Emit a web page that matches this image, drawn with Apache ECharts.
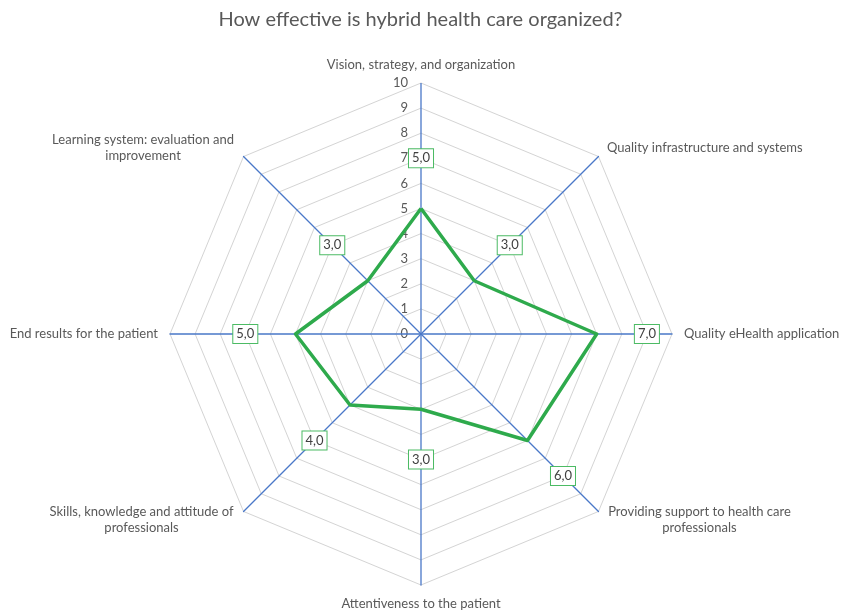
<!DOCTYPE html>
<html>
<head>
<meta charset="utf-8">
<script src="https://cdn.jsdelivr.net/npm/echarts@6/dist/echarts.min.js"></script>
<style>
html, body { margin: 0; padding: 0; background: #fff; }
#main { width: 841px; height: 614px; }
</style>
</head>
<body>
<div id="main"></div>
<script>
var categories = [
	'Vision, strategy, and organization',
	'Quality infrastructure and systems',
	'Quality eHealth application',
	'Providing support to health care\nprofessionals',
	'Attentiveness to the patient',
	'Skills, knowledge and attitude of\nprofessionals',
	'End results for the patient',
	'Learning system: evaluation and\nimprovement'
]
var scores = [5, 3, 7, 6, 3, 4, 5, 3]
var maxScore = 10
var labelShift = 2 // labels sit 2 units further out than the point

window.onload = function () {
	var textColor = '#595959'
	var font = 'Lato, "Open Sans", sans-serif'
	var axisColor = '#4a78c8'

	// width of the longest line, so that two-line names can be centred in their block
	var ctx = document.createElement('canvas').getContext('2d')
	ctx.font = '13px ' + font
	function blockWidth(name) {
		var w = 0
		for (let line of name.split('\n')) {
			w = Math.max(w, ctx.measureText(line).width)
		}
		return Math.ceil(w) + 2
	}

	// ECharts goes counter-clockwise, the reference goes clockwise
	var order = [0, 7, 6, 5, 4, 3, 2, 1]
	var indicator = order.map(function (i, k) {
		return {
			name: categories[i],
			max: maxScore,
			min: 0,
			axisLabel: { show: k === 0 }
		}
	})
	var vals = order.map(function (i) { return scores[i] })
	var labelVals = vals.map(function (v) { return v + labelShift })

	// radar axis lines rendered partly black, so the spokes are drawn as
	// degenerate polygons (max on one axis, 0 on the rest) on their own layer
	var spokes = order.map(function (i, k) {
		return {
			value: order.map(function (j, m) { return m === k ? maxScore : 0 })
		}
	})

	var rich = {}
	categories.forEach(function (name) {
		if (name.indexOf('\n') >= 0) {
			var w = blockWidth(name)
			rich['c' + w] = {
				width: w,
				align: 'center',
				color: textColor,
				fontSize: 13,
				fontFamily: font,
				lineHeight: 16
			}
		}
	})

	var options = {
		backgroundColor: '#fff',
		title: {
			text: 'How effective is hybrid health care organized?',
			left: 'center',
			top: 5,
			textStyle: {
				color: textColor,
				fontSize: 20,
				fontWeight: 'normal',
				fontFamily: font
			}
		},
		radar: {
			center: [421, 334],
			radius: 251,
			startAngle: 90,
			splitNumber: 10,
			shape: 'polygon',
			indicator: indicator,
			nameGap: 12,
			axisName: {
				color: textColor,
				fontSize: 13,
				fontFamily: font,
				formatter: function (name) {
					if (name.indexOf('\n') < 0) return name
					var key = 'c' + blockWidth(name)
					return name.split('\n').map(function (line) {
						return '{' + key + '|' + line + '}'
					}).join('\n')
				},
				rich: rich
			},
			axisLine: { show: false },
			splitLine: { lineStyle: { color: '#d4d4d4', width: 1 } },
			splitArea: { show: false },
			axisTick: { show: false },
			axisLabel: {
				show: false,
				color: textColor,
				fontSize: 13,
				fontFamily: font,
				margin: 13
			}
		},
		series: [
			{
				type: 'radar',
				symbol: 'none',
				silent: true,
				zlevel: 1,
				z: 1,
				lineStyle: { color: axisColor, width: 1.3 },
				data: spokes
			},
			{
				type: 'radar',
				symbol: 'none',
				silent: true,
				zlevel: 2,
				z: 1,
				lineStyle: { color: '#2eaa4c', width: 3.5 },
				data: [{ value: vals }]
			},
			{
				type: 'radar',
				symbol: 'circle',
				symbolSize: 2,
				silent: true,
				zlevel: 2,
				z: 2,
				itemStyle: { color: 'rgba(0,0,0,0)' },
				lineStyle: { width: 0, color: 'rgba(0,0,0,0)' },
				label: {
					show: true,
					position: 'inside',
					color: '#404040',
					fontSize: 13,
					fontFamily: font,
					backgroundColor: '#fff',
					borderColor: '#4cbb64',
					borderWidth: 1,
					padding: [3, 3, 2, 3],
					formatter: function (p) {
						return (p.value - labelShift).toFixed(1).replace('.', ',')
					}
				},
				data: [{ value: labelVals }]
			}
		]
	}
	var myChart = echarts.init(document.getElementById('main'))
	myChart.setOption(options)
}
</script>
</body>
</html>
